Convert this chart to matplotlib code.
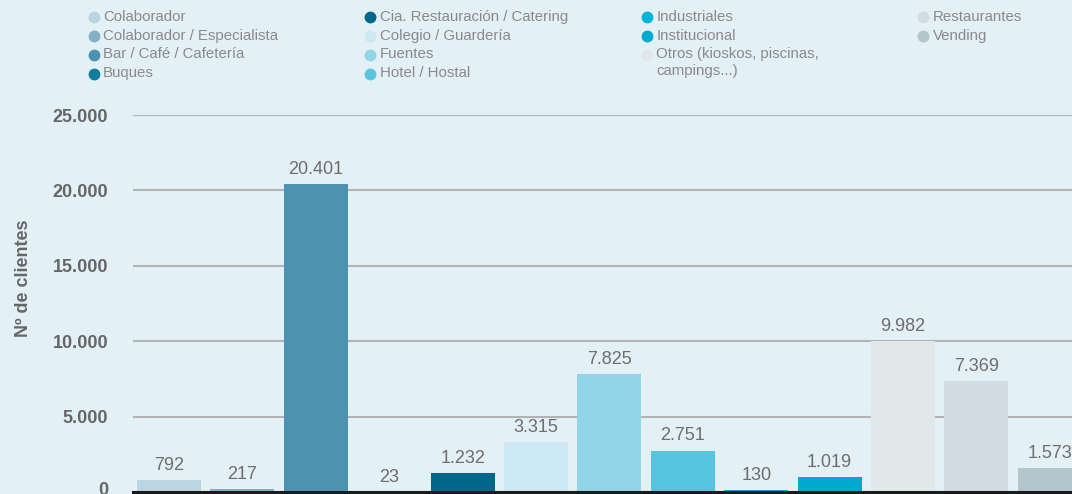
import matplotlib.pyplot as plt
from matplotlib.lines import Line2D
from matplotlib.ticker import FuncFormatter
from matplotlib.transforms import ScaledTranslation

categorias = ['Colaborador', 'Colaborador / Especialista', 'Bar / Café / Cafetería',
              'Buques', 'Cia. Restauración / Catering', 'Colegio / Guardería',
              'Fuentes', 'Hotel / Hostal', 'Industriales', 'Institucional',
              'Otros (kioskos, piscinas,\ncampings...)', 'Restaurantes', 'Vending']
clientes = [792, 217, 20401, 23, 1232, 3315, 7825, 2751, 130, 1019, 9982, 7369, 1573]
colores = ['#bcd5e2', '#84b0c6', '#4d92b0', '#0f7d9e', '#00668a', '#cce9f3',
           '#93d5e8', '#57c5e0', '#00b3d8', '#00a9cf', '#e2e7ea', '#d3dce2', '#b3c5cd']
yticks = [0, 5000, 10000, 15000, 20000, 25000]
# columna y fila de cada entrada de la leyenda
celdas = [(0, 0), (0, 1), (0, 2), (0, 3), (1, 0), (1, 1), (1, 2), (1, 3),
          (2, 0), (2, 1), (2, 2), (3, 0), (3, 1)]

fondo = '#e3f0f6'
plt.rcParams['font.family'] = ['Liberation Sans', 'DejaVu Sans']

W, H = 1072, 494
fig = plt.figure(figsize=(W / 100, H / 100), dpi=100, facecolor=fondo)
ax = fig.add_axes([133 / W, 2 / H, (W - 133) / W, (492 - 115) / H])
ax.set_facecolor(fondo)

x = range(len(clientes))
ax.bar(x, clientes, width=0.87, color=colores, zorder=2)

def puntos(v):
    return f"{v:,}".replace(",", ".")

for i, v in enumerate(clientes):
    ax.annotate(puntos(v), (i, v), xytext=(0, 10.5), textcoords='offset points',
                ha='center', va='center', fontsize=13, color='#6e6e6e')

ax.set_xlim(-0.49, (W - 169) / 73.4)
ax.set_ylim(0, 25000)
ax.set_yticks(yticks)
ax.yaxis.set_major_formatter(FuncFormatter(lambda v, p: puntos(int(v))))
ax.tick_params(axis='y', length=0, pad=18, labelsize=13, labelcolor='#666666')
for t in ax.get_yticklabels():
    t.set_fontweight('bold')
# subir un poco la etiqueta del 0 para que no se corte
cero = ax.yaxis.get_major_ticks()[0].label1
cero.set_transform(cero.get_transform() + ScaledTranslation(0, 4 / 100, fig.dpi_scale_trans))
ax.set_xticks([])
ax.grid(axis='y', color='#b3b3b3', linewidth=1.5, zorder=1)
ax.set_axisbelow(True)
for s in ['top', 'right', 'left']:
    ax.spines[s].set_visible(False)
ax.spines['bottom'].set_color('#1a1a1a')
ax.spines['bottom'].set_linewidth(2.2)
ax.spines['bottom'].set_zorder(3)

fig.text(24 / W, 1 - 278 / H, 'Nº de clientes', rotation=90, ha='center', va='center',
         fontsize=13, fontweight='bold', color='#666666')

# leyenda: cuatro columnas separadas por igual
for nombre, c, (col, fila) in zip(categorias, colores, celdas):
    xm = 93.7 + 276.5 * col
    ym = 17.5 + 18.7 * fila
    fig.add_artist(Line2D([xm / W], [1 - ym / H], marker='o', markersize=7.5,
                          color=c, linestyle='none', transform=fig.transFigure))
    fig.text((xm + 9.5) / W, 1 - (ym - 7.5) / H, nombre, ha='left', va='top',
             fontsize=10.8, color='#8a8a8a', linespacing=1.2)

fig.savefig('out.png', dpi=100, facecolor=fondo)
